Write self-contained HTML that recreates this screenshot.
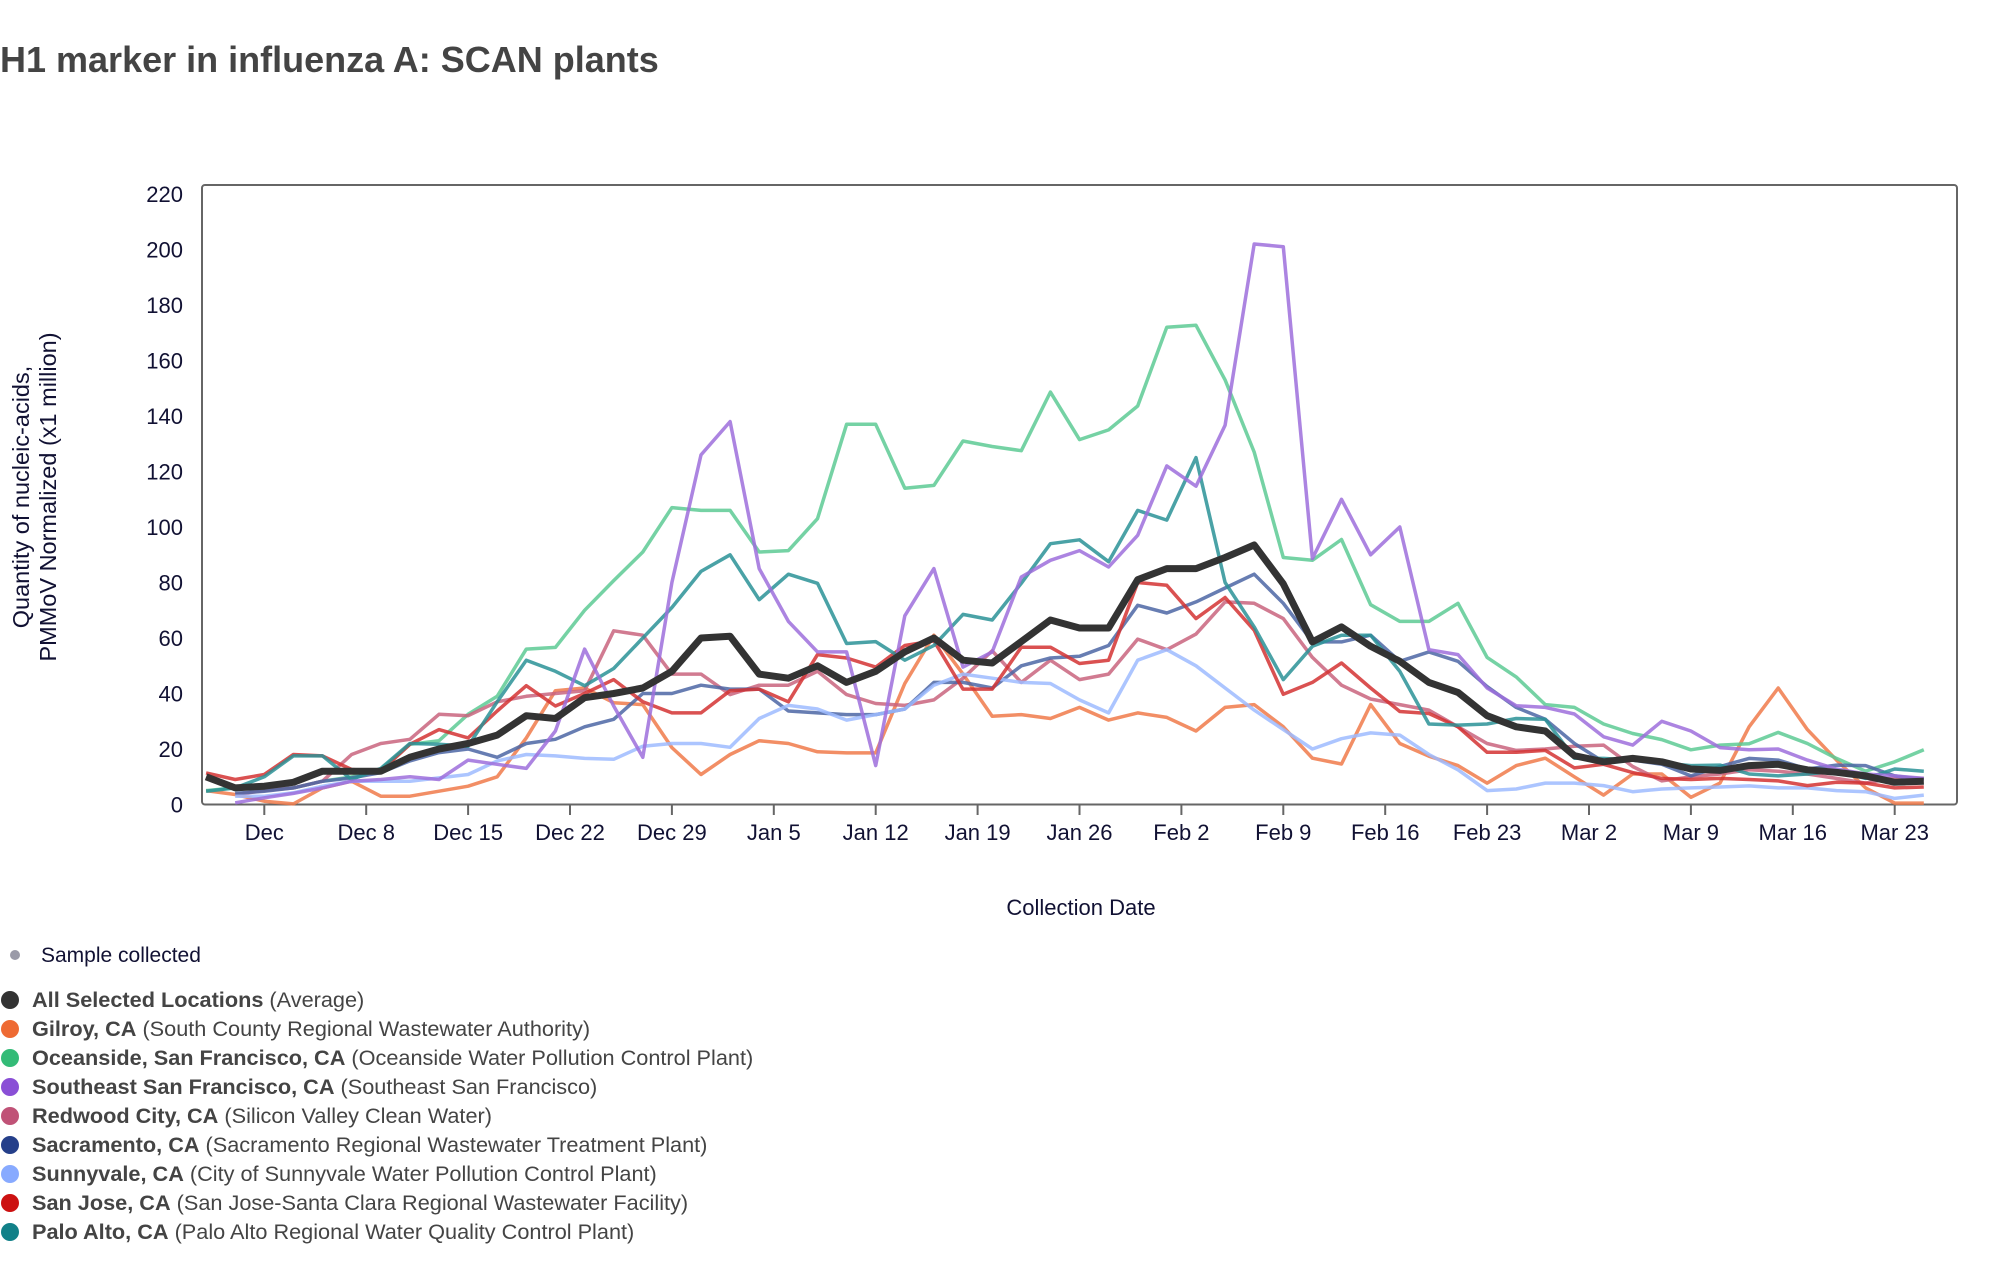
<!DOCTYPE html>
<html><head><meta charset="utf-8">
<style>
html,body{margin:0;padding:0;background:#fff;}
svg{display:block;font-family:"Liberation Sans",Arial,sans-serif;}
</style></head>
<body>
<svg id="chart" width="1998" height="1262" viewBox="0 0 1998 1262" xmlns="http://www.w3.org/2000/svg">
<text x="0" y="72" font-size="36" font-weight="bold" fill="#444">H1 marker in influenza A: SCAN plants</text>
<rect x="202" y="185" width="1755" height="619.5" rx="3" fill="none" stroke="#666" stroke-width="2"/>
<g id="yticks"></g>
<g id="xticks"></g>
<g id="lines"></g>
<text transform="translate(29,497) rotate(-90)" text-anchor="middle" font-size="23.5" fill="#111133">Quantity of nucleic-acids,</text>
<text transform="translate(56,497) rotate(-90)" text-anchor="middle" font-size="23.5" fill="#111133">PMMoV Normalized (x1 million)</text>
<text x="1081" y="915" text-anchor="middle" font-size="22" fill="#111133">Collection Date</text>
<g id="legend"></g>
</svg>
<script>
const days = [-4,-2,0,2,4,6,8,10,12,14,16,18,20,22,24,26,28,30,32,34,36,38,40,42,44,46,48,50,52,54,56,58,60,62,64,66,68,70,72,74,76,78,80,82,84,86,88,90,92,94,96,98,100,102,104,106,108,110,112,114];
const yTicks = [0,20,40,60,80,100,120,140,160,180,200,220];
const xTickDays = [0,7,14,21,28,35,42,49,56,63,70,77,84,91,98,105,112];
const xTickLabels = ["Dec","Dec 8","Dec 15","Dec 22","Dec 29","Jan 5","Jan 12","Jan 19","Jan 26","Feb 2","Feb 9","Feb 16","Feb 23","Mar 2","Mar 9","Mar 16","Mar 23"];
const gilroy = [5,3.6,1.2,0.2,6,8.4,3,3,4.8,6.6,10,24,41,42,36.7,36,20.5,10.8,18,23,22,19,18.6,18.6,43.6,61,47,31.8,32.4,31,35,30.4,33,31.4,26.5,35,36,28,16.7,14.6,36,22,17.4,14,7.7,14,16.7,10,3.4,11,11,2.6,7.7,28,42,27,16,6,0.5,0.5];
const oceanside = [5,6,5.4,6,8.4,10,12.6,21.7,23,32.5,39,56,56.6,70,80.7,91,107,106,106,91,91.5,103,137,137,114,115,131,129,127.5,148.6,131.5,135,143.6,172,172.7,153,127,89,88,95.5,72,66,66,72.5,53,46,36,35,29,25.6,23.4,19.7,21.4,21.9,26,22,16.6,12,15.4,19.7];
const southeastSF = [null,0.6,2.4,4,6,8.4,9,10,9,16,14.5,13,26.5,56,35.5,17,80,126,138,85,66,55,55,14,68,85,49.5,55,82,88,91.5,85.6,97,122,114.7,136.7,202,201,88.6,110,90,100,55.8,54,42,35.6,35,32.6,24.4,21.4,30,26.5,20.5,19.7,20,16,12.8,11,10.3,9.4];
const redwood = [null,3.6,5,6,8.4,18,22,23.5,32.5,32,37,39,40,41,62.6,61,47,47,39.6,43,43,48,39.6,36.4,35.7,37.7,45.5,55.4,44,52,45,47,59.6,55.8,61.4,73,72.5,67,53,43,38,36,34,28,22,19.5,20,21,21.4,13.7,8.5,10,11,12.5,12,11,9.4,7.7,9.7,9.4];
const sacramento = [null,4,4.8,6,8.4,9.6,11.5,15.7,18.7,20,17,22,23.5,28,30.7,40,40,43,41.6,41.6,33.7,33,32.4,32.4,34.4,44,44,42,50,52.8,53.4,57.3,71.8,69,73,78,83,72.5,58.6,58.6,61,51.6,55,51.6,42.5,35,30.7,22,15.4,16,14.5,10.3,13.7,16.6,16,12.8,14.2,14,10.3,9];
const sunnyvale = [null,3,3,4.2,6.6,8.4,8.4,8.4,9.6,10.8,15.7,18,17.5,16.6,16.3,21,22,22,20.6,31,35.7,34.4,30.4,32.4,34.4,43,47,45.5,44,43.6,37.7,33,52,55.8,50,42,34,27,20,23.7,25.8,25,18,12.5,5,5.6,7.7,7.7,6.8,4.6,5.6,6,6.3,6.7,6,6,5,4.6,2.2,3.4];
const sanJose = [11.4,9,10.8,18,17.5,12.6,12,21.7,27,24,33.7,42.8,35.5,40,45,37,33,33,41,41.6,37,54,52.8,49.5,57.3,59,41.6,41.6,56.7,56.7,50.8,52,80,79,67,74.6,62.8,39.7,44,51,42,33.5,32.8,28,18.8,18.8,19.5,13.2,14.5,11.5,9.4,9,9.4,9,8.5,6.8,8,7.7,6,6.3];
const paloAlto = [4.8,6,10,17.5,17.5,9,13,22,21.7,21,37,52,48,42.8,49,60,71,84,90,73.8,83,79.7,58,58.7,52,57.3,68.5,66.5,79.7,94,95.4,87.5,106,102.5,125,80,64,45,57,61,61,48,29,28.6,29,31,30.7,16.7,16.6,16,15,14,14.2,11,10.3,11,12,9.4,12.8,12];
const average = [10,6,6.6,8,12,12,12,17,20,22,25,32,31,38.5,40,42,48,60,60.6,47,45.5,50,44,48,55,60,52,51,58.7,66.5,63.6,63.6,81,85,85,89,93.5,79.5,58.6,64,57,51.6,44,40.4,32,28,26.5,17.6,15.4,16.6,15.4,12.8,12.3,14,14.5,12.5,11.6,10.3,8,8.4];

const NS = "http://www.w3.org/2000/svg";
function xScale(d){ return 264.3 + d * (101.9/7); }
function yScale(v){ return 804.5 - v * 2.775; }

const yG = document.getElementById('yticks');
yTicks.forEach(function(t){
  const tx = document.createElementNS(NS,'text');
  tx.setAttribute('x', 183);
  tx.setAttribute('y', yScale(t) + 8);
  tx.setAttribute('text-anchor','end');
  tx.setAttribute('font-size','22');
  tx.setAttribute('fill','#111133');
  tx.textContent = t;
  
  
  yG.appendChild(tx);
});
const xG = document.getElementById('xticks');
xTickDays.forEach(function(d, i){
  const x = xScale(d);
  const ln = document.createElementNS(NS,'line');
  ln.setAttribute('x1', x); ln.setAttribute('x2', x);
  ln.setAttribute('y1', 804.5); ln.setAttribute('y2', 815);
  ln.setAttribute('stroke','#666'); ln.setAttribute('stroke-width','2');
  
  
  xG.appendChild(ln);
  const tx = document.createElementNS(NS,'text');
  tx.setAttribute('x', x);
  tx.setAttribute('y', 840);
  tx.setAttribute('text-anchor','middle');
  tx.setAttribute('font-size','22');
  tx.setAttribute('fill','#111133');
  tx.textContent = xTickLabels[i];
  
  
  xG.appendChild(tx);
});

const series = [
  {vals: gilroy, color:'#f07a4a', name:'series-gilroy'},
  {vals: oceanside, color:'#5dca94', name:'series-oceanside'},
  {vals: redwood, color:'#c9647e', name:'series-redwood-city'},
  {vals: sacramento, color:'#4c66a4', name:'series-sacramento'},
  {vals: sunnyvale, color:'#9dbbff', name:'series-sunnyvale'},
  {vals: sanJose, color:'#d43333', name:'series-san-jose'},
  {vals: paloAlto, color:'#2a9296', name:'series-palo-alto'},
  {vals: southeastSF, color:'#9d6fdc', name:'series-southeast-sf'}
];
const lG = document.getElementById('lines');
function buildPath(vals){
  let d = ''; let pen = false;
  vals.forEach(function(v, i){
    if (v === null) { pen = false; return; }
    d += (pen ? 'L' : 'M') + xScale(days[i]).toFixed(1) + ' ' + yScale(v).toFixed(1) + ' ';
    pen = true;
  });
  return d;
}
series.forEach(function(s){
  const p = document.createElementNS(NS,'path');
  p.setAttribute('d', buildPath(s.vals));
  p.setAttribute('fill','none');
  p.setAttribute('stroke', s.color);
  p.setAttribute('stroke-width','3.5');
  p.setAttribute('stroke-opacity','0.85');
  p.setAttribute('stroke-linejoin','round');
  
  
  lG.appendChild(p);
});
const avgPath = document.createElementNS(NS,'path');
avgPath.setAttribute('d', buildPath(average));
avgPath.setAttribute('fill','none');
avgPath.setAttribute('stroke','#333');
avgPath.setAttribute('stroke-width','7');
avgPath.setAttribute('stroke-linejoin','round');


lG.appendChild(avgPath);

const legendItems = [
  ['#333333','All Selected Locations','(Average)'],
  ['#ee6a33','Gilroy, CA','(South County Regional Wastewater Authority)'],
  ['#33bb77','Oceanside, San Francisco, CA','(Oceanside Water Pollution Control Plant)'],
  ['#8a4fd6','Southeast San Francisco, CA','(Southeast San Francisco)'],
  ['#c05277','Redwood City, CA','(Silicon Valley Clean Water)'],
  ['#253f8a','Sacramento, CA','(Sacramento Regional Wastewater Treatment Plant)'],
  ['#88aaff','Sunnyvale, CA','(City of Sunnyvale Water Pollution Control Plant)'],
  ['#cc1111','San Jose, CA','(San Jose-Santa Clara Regional Wastewater Facility)'],
  ['#118088','Palo Alto, CA','(Palo Alto Regional Water Quality Control Plant)']
];
const lgG = document.getElementById('legend');
const sc = document.createElementNS(NS,'circle');
sc.setAttribute('cx',15); sc.setAttribute('cy',955); sc.setAttribute('r',5);
sc.setAttribute('fill','#9a9aa8');


lgG.appendChild(sc);
const st = document.createElementNS(NS,'text');
st.setAttribute('x',41); st.setAttribute('y',962);
st.setAttribute('font-size','21'); st.setAttribute('fill','#111133');
st.textContent = 'Sample collected';


lgG.appendChild(st);
legendItems.forEach(function(it, i){
  const cy = 1000 + i * 29;
  const g = document.createElementNS(NS,'g');
  
  
  const c = document.createElementNS(NS,'circle');
  c.setAttribute('cx',10); c.setAttribute('cy',cy); c.setAttribute('r',9);
  c.setAttribute('fill', it[0]);
  
  
  g.appendChild(c);
  const t = document.createElementNS(NS,'text');
  t.setAttribute('x',32); t.setAttribute('y',cy + 7);
  t.setAttribute('font-size','21.7'); t.setAttribute('fill','#444');
  const b = document.createElementNS(NS,'tspan');
  b.setAttribute('font-weight','bold');
  b.textContent = it[1];
  t.appendChild(b);
  const r = document.createElementNS(NS,'tspan');
  r.textContent = ' ' + it[2];
  t.appendChild(r);
  
  
  g.appendChild(t);
  lgG.appendChild(g);
});
</script>
</body></html>
